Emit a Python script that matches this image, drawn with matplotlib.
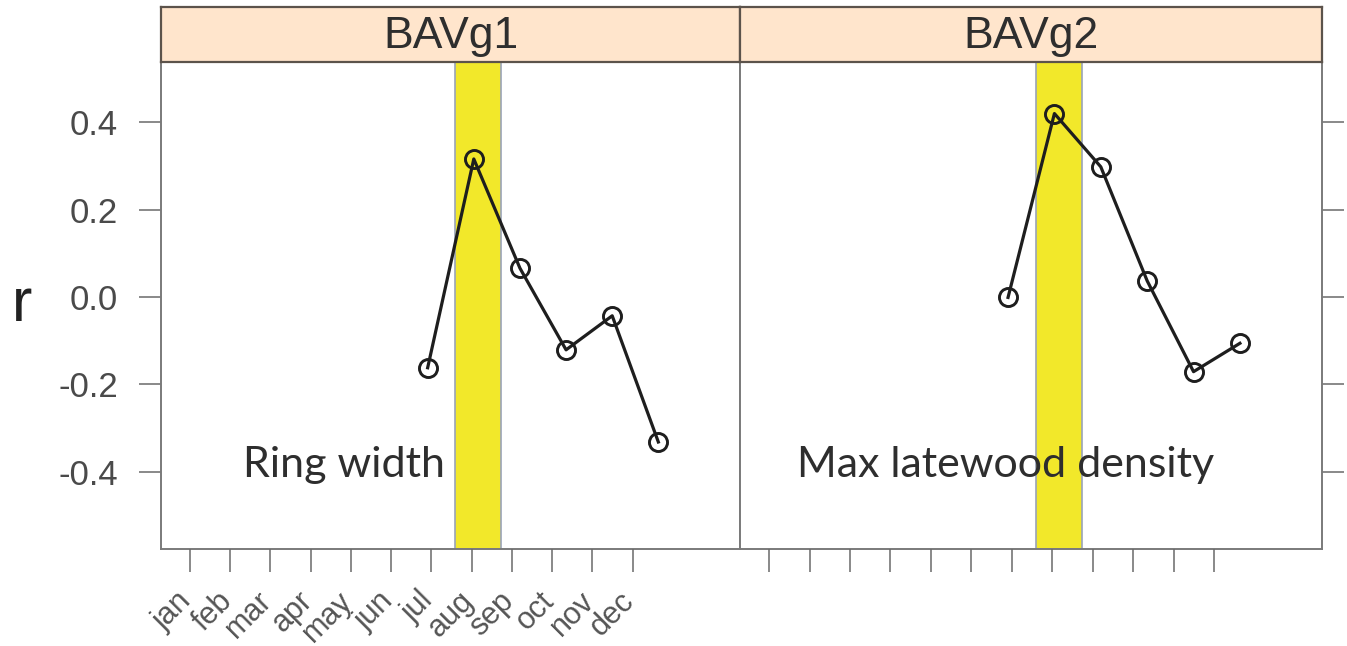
import matplotlib
matplotlib.use("Agg")
import matplotlib.pyplot as plt
import matplotlib.transforms as mtransforms

# ---- data ----
months = ["jan", "feb", "mar", "apr", "may", "jun", "jul", "aug", "sep", "oct", "nov", "dec"]
panel_titles = ["BAVg1", "BAVg2"]
panel_notes = ["Ring width", "Max latewood density"]
month_index = [6, 7, 8, 9, 10, 11]  # jun..nov
r_ring_width = [-0.162, 0.316, 0.066, -0.121, -0.043, -0.332]
r_max_density = [-0.001, 0.420, 0.298, 0.037, -0.171, -0.106]
series = [r_ring_width, r_max_density]
highlight_span = (6.6, 7.6)  # July highlight band
yticks = [-0.4, -0.2, 0.0, 0.2, 0.4]

# ---- layout ----
W, H = 1347, 646
fig = plt.figure(figsize=(W / 100, H / 100), dpi=100)

def fx(px):
    return px / W

def fy(py):
    return 1 - py / H

panel_px = [(161, 740), (740, 1322)]
top_px, bot_px, strip_top_px = 62, 549, 7

frame_col = "#7a7a7a"
tick_col = "#6a6a6a"
label_col = "#4a4a4a"
line_col = "#1e1e1e"

for i, (x0, x1) in enumerate(panel_px):
    ax = fig.add_axes([fx(x0), fy(bot_px), fx(x1 - x0), fy(top_px) - fy(bot_px)])
    ax.set_xlim(0.22, 12.77)
    ax.set_ylim(-0.577, 0.538)
    ax.axvspan(*highlight_span, facecolor="#f2e82a", edgecolor="#9aa3b8",
               linewidth=1.2, zorder=1)
    ax.plot(month_index, series[i], color=line_col, lw=2.3, marker="o",
            markersize=13, markerfacecolor="none", markeredgecolor=line_col,
            markeredgewidth=2.1, zorder=3)
    ax.text(2.0 if i == 0 else 1.45, -0.412, panel_notes[i], family="Lato",
            fontsize=31, color="#2e2e2e", ha="left", va="baseline", zorder=4)
    for s in ax.spines.values():
        s.set_color(frame_col)
        s.set_linewidth(1.4)
    ax.set_xticks([])
    ax.set_yticks(yticks)
    if i == 0:
        ax.yaxis.set_ticks_position("left")
        ax.set_yticklabels([f"{v:.1f}" for v in yticks], family="Liberation Sans",
                           fontsize=25, color=label_col)
        ax.set_ylabel("r", family="Liberation Sans", fontsize=44, color="#222222",
                      rotation=0, va="center", labelpad=26)
    else:
        ax.yaxis.set_ticks_position("right")
        ax.set_yticklabels([])
    ax.tick_params(axis="y", direction="out", length=16, width=1.1,
                   color=tick_col, pad=15)

    # month tick scale
    ax2 = ax.twiny()
    ax2.set_xlim(0.28, 14.67)
    ax2.xaxis.set_ticks_position("bottom")
    ax2.set_xticks(range(1, 13))
    for s in ax2.spines.values():
        s.set_visible(False)
    ax2.patch.set_visible(False)
    ax2.tick_params(axis="x", direction="out", length=16.5, width=1.1,
                    color=tick_col, pad=10)
    if i == 0:
        ax2.set_xticklabels(months, rotation=45, ha="right",
                            family="Liberation Sans", fontsize=22, color="#555555")
        off = mtransforms.ScaledTranslation(8 / 100, 0, fig.dpi_scale_trans)
        for lab in ax2.get_xticklabels():
            lab.set_transform(lab.get_transform() + off)
    else:
        ax2.set_xticklabels([])

    # strip
    sax = fig.add_axes([fx(x0), fy(top_px), fx(x1 - x0), fy(strip_top_px) - fy(top_px)])
    sax.set_facecolor("#ffe5cc")
    sax.set_xticks([])
    sax.set_yticks([])
    for s in sax.spines.values():
        s.set_color("#5c534b")
        s.set_linewidth(1.6)
    sax.text(0.5, 0.47, panel_titles[i], transform=sax.transAxes, ha="center",
             va="center", family="Liberation Sans", fontsize=32, color="#2e2e2e")

fig.savefig("out.png", dpi=100)
